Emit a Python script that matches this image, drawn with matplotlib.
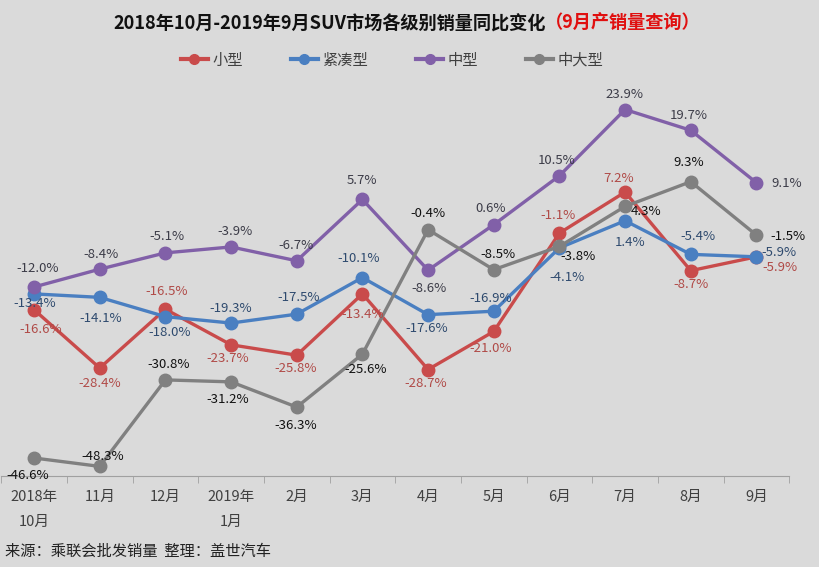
import matplotlib
matplotlib.use('Agg')
import matplotlib.pyplot as plt
import numpy as np

plt.rcParams['font.family'] = ['Noto Sans CJK SC', 'DejaVu Sans']

# 数据
months = ['2018年\n10月', '11月', '12月', '2019年\n1月', '2月', '3月',
          '4月', '5月', '6月', '7月', '8月', '9月']
small = [-16.6, -28.4, -16.5, -23.7, -25.8, -13.4, -28.7, -21.0, -1.1, 7.2, -8.7, -5.9]
compact = [-13.4, -14.1, -18.0, -19.3, -17.5, -10.1, -17.6, -16.9, -4.1, 1.4, -5.4, -5.9]
midsize = [-12.0, -8.4, -5.1, -3.9, -6.7, 5.7, -8.6, 0.6, 10.5, 23.9, 19.7, 9.1]
large = [-46.6, -48.3, -30.8, -31.2, -36.3, -25.6, -0.4, -8.5, -3.8, 4.3, 9.3, -1.5]
names = ['小型', '紧凑型', '中型', '中大型']

# 样式
bg = '#dadada'
line_colors = ['#c94b4b', '#4a7fc1', '#8160a8', '#808080']
label_colors = ['#b04a47', '#2e4a6e', '#3c3c48', '#111111']

# 数据标签偏移（像素，y向上）
offsets = [
    [(7, -20), (0, -15), (1, 18), (-3, -14), (-1, -13), (0, -21),
     (-2, -14), (-3, -17), (-1, 18), (-6, 14), (0, -14), (24, -11)],
    [(1, -10), (1, -21), (4, -16), (0, 15), (2, 17), (-4, 19),
     (-1, -14), (-3, 13), (8, -30), (5, -22), (7, 18), (23, 4)],
    [(4, 18), (1, 15), (2, 16), (4, 15), (-1, 15), (0, 19),
     (1, -18), (-3, 16), (-3, 15), (-1, 15), (-2, 15), (30, -1)],
    [(-6, -18), (3, 10), (3, 15), (-3, -18), (-1, -18), (3, -15),
     (0, 16), (4, 15), (19, -10), (21, -5), (-2, 19), (32, -1)],
]

fig = plt.figure(figsize=(8.2, 5.67), dpi=100, facecolor=bg)
ax = fig.add_axes([0.0015, 0.160, 0.961, 0.700])
ax.set_facecolor(bg)

x = np.arange(len(months))
series = [small, compact, midsize, large]
lines = []
for k, ys in enumerate(series):
    ln, = ax.plot(x, ys, color=line_colors[k], linewidth=2.4, marker='o',
                  markersize=9, label=names[k], zorder=3 + k * 0.1)
    lines.append(ln)
    for i, v in enumerate(ys):
        dx, dy = offsets[k][i]
        ax.annotate('{:.1f}%'.format(v), (x[i], v), xytext=(dx, dy),
                    textcoords='offset pixels', ha='center', va='center',
                    fontsize=9.5, color=label_colors[k], zorder=10)

ax.set_xlim(-0.5, 11.5)
ax.set_ylim(-50.3, 30)
for s in ['top', 'right', 'left']:
    ax.spines[s].set_visible(False)
ax.spines['bottom'].set_color('#a0a0a0')
ax.set_yticks([])
ax.set_xticks(x)
ax.set_xticklabels(months, fontsize=10.5, color='#404040', linespacing=1.95)
ax.tick_params(axis='x', which='major', length=0, pad=10)
ax.set_xticks(np.arange(-0.5, 12, 1), minor=True)
ax.tick_params(axis='x', which='minor', length=5, color='#a0a0a0', direction='out')

# 图例
leg_handles = [plt.Line2D([], [], color=c, linewidth=3, marker='o', markersize=7)
               for c in line_colors]
ax.legend(leg_handles, names, ncol=4, loc='center', bbox_to_anchor=(0.496, 1.048),
          frameon=False, fontsize=11, handlelength=1.8, handletextpad=0.3,
          columnspacing=3.1, labelcolor='#404040')

t1 = fig.text(0.665, 0.958, '2018年10月-2019年9月SUV市场各级别销量同比变化',
              ha='right', va='center', fontsize=13.1, fontweight='bold', color='#111111')
ax.annotate('（9月产销量查询）', xy=(1, 0.5), xycoords=t1, xytext=(0, 0),
            textcoords='offset points', ha='left', va='center',
            fontsize=13.1, fontweight='bold', color='#e01010')

fig.text(0.006, 0.028, '来源：乘联会批发销量  整理：盖世汽车', ha='left', va='center',
         fontsize=11, color='#222222', style='italic')

fig.savefig('out.png', dpi=100, facecolor=bg)
